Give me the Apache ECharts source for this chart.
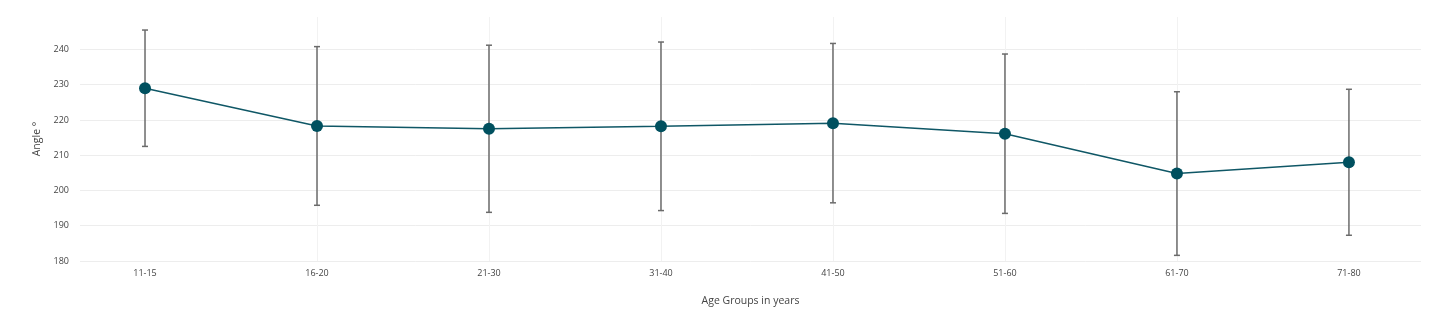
<!DOCTYPE html>
<html>
<head>
<meta charset="utf-8">
<script src="https://cdn.jsdelivr.net/npm/echarts@6/dist/echarts.min.js"></script>
<style>
  html, body { margin: 0; padding: 0; background: #fff; }
  #chart { width: 1430px; height: 324px; }
</style>
</head>
<body>
<div id="chart"></div>
<script>
// Age groups on the x axis
const categories = ['11-15', '16-20', '21-30', '31-40', '41-50', '51-60', '61-70', '71-80'];
// Mean angle per age group (degrees)
const meanAngle = [229.0, 218.3, 217.5, 218.2, 219.1, 216.1, 204.8, 208.0];
// Standard deviation per age group (symmetric error bars)
const sdAngle = [16.5, 22.5, 23.7, 23.9, 22.6, 22.6, 23.2, 20.7];
// Y axis tick values
const yTicks = [180, 190, 200, 210, 220, 230, 240];

const xIdx = categories.map((_, i) => i);
const lineData = meanAngle.map((v, i) => [i, v]);
const errData = meanAngle.map((v, i) => [i, v - sdAngle[i], v + sdAngle[i]]);

const chart = echarts.init(document.getElementById('chart'), null, { renderer: 'canvas' });

const textFont = '"Open Sans", verdana, arial, sans-serif';

chart.setOption({
  animation: false,
  backgroundColor: '#ffffff',
  grid: { left: 80, right: 9, top: 17, bottom: 63, containLabel: false },
  xAxis: {
    type: 'value',
    min: -0.378,
    max: 7.419,
    name: 'Age Groups in years',
    nameLocation: 'middle',
    nameGap: 35,
    nameTextStyle: { color: '#444', fontSize: 10.5, fontFamily: textFont },
    axisLine: { show: false },
    axisTick: { show: false, customValues: xIdx },
    axisLabel: {
      customValues: xIdx,
      color: '#444',
      fontSize: 9,
      fontFamily: textFont,
      margin: 8,
      formatter: v => categories[Math.round(v)]
    },
    splitLine: { show: true, showMinLine: false, showMaxLine: false, lineStyle: { color: '#f2f2f2', width: 1 } }
  },
  yAxis: {
    type: 'value',
    min: 180,
    max: 249.2,
    name: 'Angle °',
    nameLocation: 'middle',
    nameGap: 31,
    nameRotate: 90,
    nameTextStyle: { color: '#444', fontSize: 10.5, fontFamily: textFont },
    axisLine: { show: false },
    axisTick: { show: false, customValues: yTicks },
    axisLabel: {
      customValues: yTicks,
      color: '#444',
      fontSize: 9,
      fontFamily: textFont,
      margin: 11
    },
    splitLine: { show: true, showMinLine: true, showMaxLine: true, lineStyle: { color: '#ededed', width: 1 } }
  },
  series: [
    {
      // error bars: mean ± SD
      type: 'custom',
      z: 1,
      data: errData,
      encode: { x: 0, y: [1, 2] },
      renderItem: function (params, api) {
        const x = api.value(0);
        const lo = api.coord([x, api.value(1)]);
        const hi = api.coord([x, api.value(2)]);
        const half = 3;
        const style = { stroke: '#6b6b6b', lineWidth: 1.5, fill: null };
        return {
          type: 'group',
          children: [
            { type: 'line', shape: { x1: lo[0], y1: lo[1], x2: hi[0], y2: hi[1] }, style: style },
            { type: 'line', shape: { x1: lo[0] - half, y1: lo[1], x2: lo[0] + half, y2: lo[1] }, style: style },
            { type: 'line', shape: { x1: hi[0] - half, y1: hi[1], x2: hi[0] + half, y2: hi[1] }, style: style }
          ]
        };
      }
    },
    {
      type: 'line',
      z: 2,
      data: lineData,
      symbol: 'circle',
      symbolSize: 12,
      showSymbol: true,
      lineStyle: { color: '#0f5766', width: 1.5 },
      itemStyle: { color: '#00505f' }
    }
  ]
});
</script>
</body>
</html>
